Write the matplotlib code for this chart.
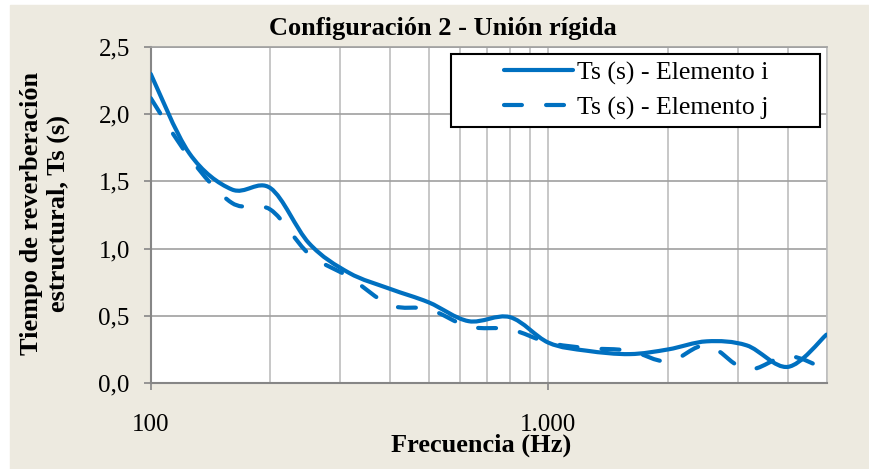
import numpy as np
import matplotlib.pyplot as plt
from matplotlib.path import Path
from matplotlib.patches import PathPatch, Rectangle
from matplotlib.lines import Line2D
from matplotlib.ticker import FixedLocator, FuncFormatter, NullFormatter

plt.rcParams['font.family'] = ['Liberation Serif', 'DejaVu Serif']

# third-octave bands (Hz)
freq = [100, 125, 160, 200, 250, 315, 400, 500, 630, 800,
        1000, 1250, 1600, 2000, 2500, 3150, 4000, 5000]
# structural reverberation time Ts (s)
ts_i = [2.30, 1.71, 1.44, 1.45, 1.04, 0.82, 0.70, 0.60, 0.46, 0.49,
        0.30, 0.24, 0.215, 0.25, 0.31, 0.28, 0.12, 0.36]
ts_j = [2.12, 1.68, 1.34, 1.29, 0.96, 0.79, 0.58, 0.55, 0.42, 0.40,
        0.30, 0.26, 0.24, 0.16, 0.28, 0.10, 0.20, 0.10]

labels = ['Ts (s) - Elemento i', 'Ts (s) - Elemento j']
blue = '#0070C0'
beige = '#EDEAE0'


def smooth_path(xs, ys):
    # Excel-like smoothed line: cubic Bezier segments built in log-x space
    pts = np.column_stack([np.log10(xs), ys])
    n = len(pts)
    verts = [pts[0]]
    codes = [Path.MOVETO]
    for k in range(n - 1):
        p0 = pts[max(k - 1, 0)]
        p1 = pts[k]
        p2 = pts[k + 1]
        p3 = pts[min(k + 2, n - 1)]
        verts += [p1 + (p2 - p0) / 6, p2 - (p3 - p1) / 6, p2]
        codes += [Path.CURVE4] * 3
    verts = np.array(verts)
    verts[:, 0] = 10 ** verts[:, 0]
    return Path(verts, codes)


fig = plt.figure(figsize=(8.69, 4.69), dpi=100)
fig.patch.set_facecolor('white')
fig.add_artist(Rectangle((10 / 869, 0), 1, (469 - 5) / 469,
                         transform=fig.transFigure, color=beige, zorder=-10))

ax = fig.add_axes([150.7 / 869, 1 - 383 / 469, 675.8 / 869, 336 / 469])
ax.set_facecolor('white')
ax.set_xscale('log')
ax.set_xlim(100, 5000)
ax.set_ylim(0, 2.5)

dash = (0, (4.3, 5.8))
ax.add_patch(PathPatch(smooth_path(freq, ts_i), fill=False, edgecolor=blue,
                       lw=3, capstyle='round', joinstyle='round', zorder=3))
ax.add_patch(PathPatch(smooth_path(freq, ts_j), fill=False, edgecolor=blue,
                       lw=3, linestyle=dash, capstyle='round',
                       joinstyle='round', zorder=3))

# ticks and grid
ax.yaxis.set_major_locator(FixedLocator([0, 0.5, 1.0, 1.5, 2.0, 2.5]))
ax.yaxis.set_major_formatter(FuncFormatter(lambda v, p: f'{v:.1f}'.replace('.', ',')))
ax.xaxis.set_major_locator(FixedLocator([100, 1000]))
ax.xaxis.set_major_formatter(FuncFormatter(lambda v, p: f'{int(v):,}'.replace(',', '.')))
ax.xaxis.set_minor_locator(FixedLocator([200, 300, 400, 500, 600, 700, 800, 900,
                                         2000, 3000, 4000, 5000]))
ax.xaxis.set_minor_formatter(NullFormatter())
ax.tick_params(axis='y', direction='out', length=5, width=1.2, color='#868686',
               labelsize=18, pad=10)
ax.tick_params(axis='x', which='major', direction='out', length=5, width=1.2,
               color='#868686', labelsize=18, pad=17)
ax.tick_params(axis='x', which='minor', length=0)

ax.grid(True, axis='y', color='#A0A0A0', lw=1.2, zorder=0)
ax.grid(True, axis='x', which='both', color='#BEBEBE', lw=1.2, zorder=0)
ax.set_axisbelow(True)

for s in ['left', 'bottom']:
    ax.spines[s].set_color('#868686')
    ax.spines[s].set_linewidth(1.5)
ax.spines['top'].set_color('#A0A0A0')
ax.spines['top'].set_linewidth(1.2)
ax.spines['right'].set_color('#BEBEBE')
ax.spines['right'].set_linewidth(1.2)

# legend with its own box
ax.add_patch(Rectangle((0.445, 0.763), 0.545, 0.215, transform=ax.transAxes,
                       facecolor='white', edgecolor='black', lw=1.5, zorder=4))
handles = [
    Line2D([], [], color=blue, lw=3, solid_capstyle='round'),
    Line2D([], [], color=blue, lw=3, linestyle=dash, dash_capstyle='round'),
]
leg = ax.legend(handles, labels, loc='center', bbox_to_anchor=(0.718, 0.8705),
                frameon=False, fontsize=18.5, handlelength=2.7,
                handletextpad=0.15, labelspacing=0.45, borderpad=0)
leg.set_zorder(5)

fig.text(443 / 869, 1 - 29 / 469, 'Configuración 2 - Unión rígida',
         ha='center', va='center', fontsize=19, fontweight='bold')
fig.text(481 / 869, 1 - 445 / 469, 'Frecuencia (Hz)',
         ha='center', va='center', fontsize=19, fontweight='bold')
fig.text(45 / 869, 1 - 213 / 469, 'Tiempo de reverberación\nestructural, Ts (s)',
         ha='center', va='center', rotation=90, fontsize=19, fontweight='bold',
         multialignment='center', linespacing=1.2)

fig.savefig('out.png', dpi=100)
